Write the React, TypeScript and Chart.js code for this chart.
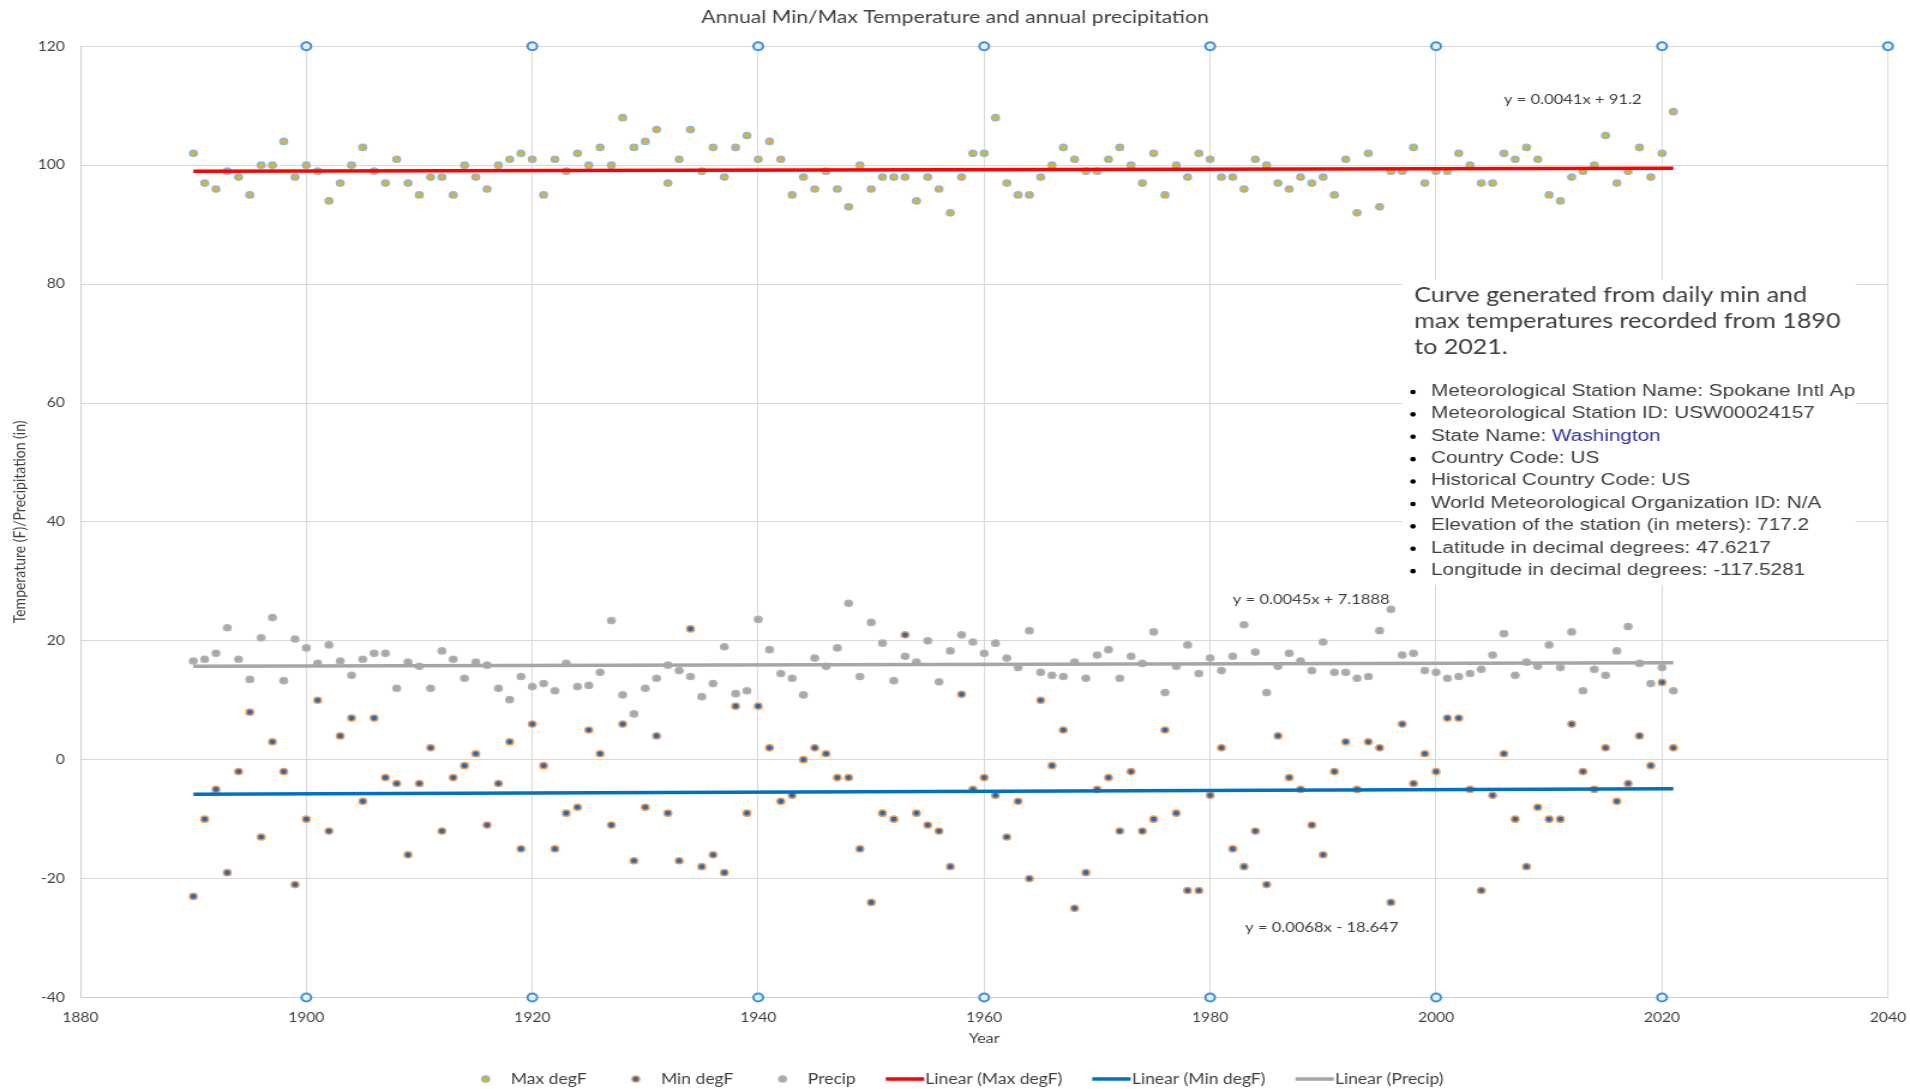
import React, { useEffect, useRef } from 'react';
import { Chart, registerables } from 'chart.js';

Chart.register(...registerables);

// ---------------- data ----------------
const years = [
  1890, 1891, 1892, 1893, 1894, 1895, 1896, 1897, 1898, 1899,
  1900, 1901, 1902, 1903, 1904, 1905, 1906, 1907, 1908, 1909,
  1910, 1911, 1912, 1913, 1914, 1915, 1916, 1917, 1918, 1919,
  1920, 1921, 1922, 1923, 1924, 1925, 1926, 1927, 1928, 1929,
  1930, 1931, 1932, 1933, 1934, 1935, 1936, 1937, 1938, 1939,
  1940, 1941, 1942, 1943, 1944, 1945, 1946, 1947, 1948, 1949,
  1950, 1951, 1952, 1953, 1954, 1955, 1956, 1957, 1958, 1959,
  1960, 1961, 1962, 1963, 1964, 1965, 1966, 1967, 1968, 1969,
  1970, 1971, 1972, 1973, 1974, 1975, 1976, 1977, 1978, 1979,
  1980, 1981, 1982, 1983, 1984, 1985, 1986, 1987, 1988, 1989,
  1990, 1991, 1992, 1993, 1994, 1995, 1996, 1997, 1998, 1999,
  2000, 2001, 2002, 2003, 2004, 2005, 2006, 2007, 2008, 2009,
  2010, 2011, 2012, 2013, 2014, 2015, 2016, 2017, 2018, 2019,
  2020, 2021,
];

const maxDegF = [
  102, 97, 96, 99, 98, 95, 100, 100, 104, 98,
  100, 99, 94, 97, 100, 103, 99, 97, 101, 97,
  95, 98, 98, 95, 100, 98, 96, 100, 101, 102,
  101, 95, 101, 99, 102, 100, 103, 100, 108, 103,
  104, 106, 97, 101, 106, 99, 103, 98, 103, 105,
  101, 104, 101, 95, 98, 96, 99, 96, 93, 100,
  96, 98, 98, 98, 94, 98, 96, 92, 98, 102,
  102, 108, 97, 95, 95, 98, 100, 103, 101, 99,
  99, 101, 103, 100, 97, 102, 95, 100, 98, 102,
  101, 98, 98, 96, 101, 100, 97, 96, 98, 97,
  98, 95, 101, 92, 102, 93, 99, 99, 103, 97,
  99, 99, 102, 100, 97, 97, 102, 101, 103, 101,
  95, 94, 98, 99, 100, 105, 97, 99, 103, 98,
  102, 109,
];

const minDegF = [
  -23, -10, -5, -19, -2, 8, -13, 3, -2, -21,
  -10, 10, -12, 4, 7, -7, 7, -3, -4, -16,
  -4, 2, -12, -3, -1, 1, -11, -4, 3, -15,
  6, -1, -15, -9, -8, 5, 1, -11, 6, -17,
  -8, 4, -9, -17, 22, -18, -16, -19, 9, -9,
  9, 2, -7, -6, 0, 2, 1, -3, -3, -15,
  -24, -9, -10, 21, -9, -11, -12, -18, 11, -5,
  -3, -6, -13, -7, -20, 10, -1, 5, -25, -19,
  -5, -3, -12, -2, -12, -10, 5, -9, -22, -22,
  -6, 2, -15, -18, -12, -21, 4, -3, -5, -11,
  -16, -2, 3, -5, 3, 2, -24, 6, -4, 1,
  -2, 7, 7, -5, -22, -6, 1, -10, -18, -8,
  -10, -10, 6, -2, -5, 2, -7, -4, 4, -1,
  13, 2,
];

const precipIn = [
  16.6, 16.9, 17.9, 22.2, 16.9, 13.5, 20.5, 23.9, 13.3, 20.3,
  18.8, 16.2, 19.3, 16.6, 14.2, 16.9, 17.9, 17.9, 12.0, 16.4,
  15.7, 12.0, 18.3, 16.9, 13.7, 16.4, 15.9, 12.0, 10.1, 14.0,
  12.3, 12.8, 11.6, 16.2, 12.3, 12.5, 14.7, 23.4, 10.9, 7.7,
  12.0, 13.7, 15.9, 15.0, 14.0, 10.6, 12.8, 19.0, 11.1, 11.6,
  23.6, 18.5, 14.5, 13.7, 10.9, 17.1, 15.7, 18.8, 26.3, 14.0,
  23.1, 19.6, 13.3, 17.4, 16.4, 20.0, 13.1, 18.3, 21.0, 19.8,
  17.9, 19.6, 17.1, 15.5, 21.7, 14.7, 14.2, 14.0, 16.4, 13.7,
  17.6, 18.5, 13.7, 17.4, 16.2, 21.5, 11.3, 15.7, 19.3, 14.5,
  17.1, 15.0, 17.4, 22.7, 18.1, 11.3, 15.7, 17.9, 16.6, 15.0,
  19.8, 14.7, 14.7, 13.7, 14.0, 21.7, 25.3, 17.6, 17.9, 15.0,
  14.7, 13.7, 14.0, 14.5, 15.2, 17.6, 21.2, 14.2, 16.4, 15.7,
  19.3, 15.5, 21.5, 11.6, 15.2, 14.2, 18.3, 22.4, 16.2, 12.8,
  15.5, 11.6,
];

// trend lines: end points
const trendYears = [1890, 2021];
const maxTrend = [99.0, 99.5];
const minTrend = [-5.8, -4.9];
const precipTrend = [15.7, 16.3];

// circle markers sitting on the top / bottom gridlines
const topMarkerYears = [1900, 1920, 1940, 1960, 1980, 2000, 2020, 2040];
const bottomMarkerYears = [1900, 1920, 1940, 1960, 1980, 2000, 2020];
const topMarkerValue = 120;
const bottomMarkerValue = -40;

const titleText = 'Annual Min/Max Temperature and annual precipitation';
const xTitle = 'Year';
const yTitle = 'Temperature (F)/Precipitation (in)';
const equationTexts = ['y = 0.0041x + 91.2', 'y = 0.0045x + 7.1888', 'y = 0.0068x - 18.647'];

const infoHeading = [
  'Curve generated from daily min and',
  'max temperatures recorded from 1890',
  'to 2021.',
];
const infoBullets: [string, string][] = [
  ['Meteorological Station Name: Spokane Intl Ap', ''],
  ['Meteorological Station ID: USW00024157', ''],
  ['State Name: ', 'Washington'],
  ['Country Code: US', ''],
  ['Historical Country Code: US', ''],
  ['World Meteorological Organization ID: N/A', ''],
  ['Elevation of the station (in meters): 717.2', ''],
  ['Latitude in decimal degrees: 47.6217', ''],
  ['Longitude in decimal degrees: -117.5281', ''],
];

// ---------------- layout / style ----------------
const W = 1910;
const H = 1089;
const STRETCH = 1.2; // reference is horizontally stretched
const IW = Math.round(W / STRETCH);
const PLOT_RIGHT = 1888 / (W / IW);
const RIGHT_GAP = IW - PLOT_RIGHT;

const TEXT = '#404040';
const GRID = '#D9D9D9';

const C_MAX_FILL = '#E2B223';
const C_MAX_EDGE = '#8DB6DE';
const C_MIN_FILL = '#1C6CC0';
const C_MIN_EDGE = '#EE9A55';
const C_PRE_FILL = '#A8A8A8';
const C_PRE_EDGE = '#B2B2B2';
const C_TR_MAX = '#FF0000';
const C_TR_MIN = '#0070C0';
const C_TR_PRE = '#A6A6A6';

const POINT_R = 3.1;
const POINT_BW = 1.5;

// annotation anchors in data coordinates
const eqAnchors = [
  { x: 2006.0, y: 111.0 },
  { x: 1982.0, y: 27.0 },
  { x: 1983.1, y: -28.3 },
];
const infoBox = { x0: 1997.0, x1: 2037.2, y0: 80.7, y1: 29.4 };

const pts = (xs: number[], ys: number[]) => xs.map((x, i) => ({ x, y: ys[i] }));

type LegendEntry = { label: string; kind: 'marker' | 'line'; fill: string; edge: string };
const legendEntries: LegendEntry[] = [
  { label: 'Max degF', kind: 'marker', fill: C_MAX_FILL, edge: C_MAX_EDGE },
  { label: 'Min degF', kind: 'marker', fill: C_MIN_FILL, edge: C_MIN_EDGE },
  { label: 'Precip', kind: 'marker', fill: C_PRE_FILL, edge: C_PRE_EDGE },
  { label: 'Linear (Max degF)', kind: 'line', fill: C_TR_MAX, edge: C_TR_MAX },
  { label: 'Linear (Min degF)', kind: 'line', fill: C_TR_MIN, edge: C_TR_MIN },
  { label: 'Linear (Precip)', kind: 'line', fill: C_TR_PRE, edge: C_TR_PRE },
];

const overlayPlugin = {
  id: 'overlay',
  beforeDatasetsDraw(chart: any) {
    const { ctx, scales } = chart;
    const xs = scales.x;
    const ys = scales.y;
    const left = xs.getPixelForValue(infoBox.x0);
    const right = xs.getPixelForValue(infoBox.x1);
    const top = ys.getPixelForValue(infoBox.y0);
    const bottom = ys.getPixelForValue(infoBox.y1);
    ctx.save();
    ctx.fillStyle = '#FFFFFF';
    ctx.fillRect(left, top, right - left, bottom - top);
    ctx.textBaseline = 'middle';
    ctx.textAlign = 'left';
    ctx.fillStyle = TEXT;
    ctx.font = '20.9px Lato';
    infoHeading.forEach((line, i) => {
      ctx.fillText(line, left + 10, top + 15 + i * 26);
    });
    ctx.font = '17.3px "Liberation Sans"';
    infoBullets.forEach((b, i) => {
      const cy = top + 111 + i * 22.4;
      ctx.fillStyle = '#000000';
      ctx.beginPath();
      ctx.arc(left + 9, cy + 1, 2.3, 0, Math.PI * 2);
      ctx.fill();
      ctx.fillStyle = TEXT;
      ctx.fillText(b[0], left + 24, cy);
      if (b[1]) {
        const w = ctx.measureText(b[0]).width;
        ctx.fillStyle = '#3535A8';
        ctx.fillText(b[1], left + 24 + w, cy);
      }
    });
    ctx.restore();
  },
  afterDatasetsDraw(chart: any) {
    const { ctx, scales } = chart;
    ctx.save();
    ctx.font = '13.8px Lato';
    ctx.fillStyle = TEXT;
    ctx.textBaseline = 'middle';
    ctx.textAlign = 'left';
    equationTexts.forEach((t, i) => {
      const a = eqAnchors[i];
      ctx.fillText(t, scales.x.getPixelForValue(a.x), scales.y.getPixelForValue(a.y));
    });
    ctx.restore();
  },
  afterDraw(chart: any) {
    const { ctx } = chart;
    ctx.save();
    ctx.font = '14.6px Lato';
    ctx.textBaseline = 'middle';
    ctx.textAlign = 'left';
    const gap = 25;
    const widths = legendEntries.map((e) => {
      const tw = ctx.measureText(e.label).width;
      return e.kind === 'marker' ? 16 + 21 + tw : 32 + 1 + tw;
    });
    const total = widths.reduce((a, b) => a + b, 0) + gap * (widths.length - 1);
    let x = (chart.width - total) / 2;
    const cy = 1079;
    legendEntries.forEach((e, i) => {
      if (e.kind === 'marker') {
        ctx.beginPath();
        ctx.arc(x + 16, cy, POINT_R, 0, Math.PI * 2);
        ctx.fillStyle = e.fill;
        ctx.fill();
        ctx.lineWidth = POINT_BW;
        ctx.strokeStyle = e.edge;
        ctx.stroke();
        ctx.fillStyle = TEXT;
        ctx.fillText(e.label, x + 37, cy);
      } else {
        ctx.beginPath();
        ctx.moveTo(x, cy);
        ctx.lineTo(x + 32, cy);
        ctx.lineWidth = 3.5;
        ctx.strokeStyle = e.edge;
        ctx.stroke();
        ctx.fillStyle = TEXT;
        ctx.fillText(e.label, x + 33, cy);
      }
      x += widths[i] + gap;
    });
    ctx.restore();
  },
};

export default function App() {
  const ref = useRef<HTMLCanvasElement | null>(null);

  useEffect(() => {
    document.body.style.margin = '0';
    document.body.style.overflow = 'hidden';
    if (!ref.current) return;

    const pointDs = (label: string, ys: number[], fill: string, edge: string) => ({
      label,
      data: pts(years, ys),
      pointRadius: POINT_R,
      pointBackgroundColor: fill,
      pointBorderColor: edge,
      pointBorderWidth: POINT_BW,
      showLine: false,
      order: 1,
    });
    const trendDs = (label: string, ys: number[], color: string) => ({
      label,
      data: pts(trendYears, ys),
      showLine: true,
      borderColor: color,
      borderWidth: 3.5,
      pointRadius: 0,
      fill: false,
      order: 0,
    });

    const chart = new Chart(ref.current, {
      type: 'scatter',
      data: {
        datasets: [
          trendDs('Linear (Max degF)', maxTrend, C_TR_MAX),
          trendDs('Linear (Min degF)', minTrend, C_TR_MIN),
          trendDs('Linear (Precip)', precipTrend, C_TR_PRE),
          pointDs('Max degF', maxDegF, C_MAX_FILL, C_MAX_EDGE),
          pointDs('Min degF', minDegF, C_MIN_FILL, C_MIN_EDGE),
          pointDs('Precip', precipIn, C_PRE_FILL, C_PRE_EDGE),
          {
            label: 'gridMarks',
            data: [
              ...topMarkerYears.map((x) => ({ x, y: topMarkerValue })),
              ...bottomMarkerYears.map((x) => ({ x, y: bottomMarkerValue })),
            ],
            pointRadius: 4,
            pointBorderWidth: 2,
            pointBorderColor: '#3D8FE0',
            pointBackgroundColor: '#E4F0FC',
            showLine: false,
            clip: false,
            order: 2,
          } as any,
        ],
      },
      options: {
        animation: false,
        responsive: true,
        maintainAspectRatio: false,
        devicePixelRatio: 1,
        events: [],
        layout: { padding: { left: 0, right: 0, top: 0, bottom: 40 } },
        plugins: {
          legend: { display: false },
          tooltip: { enabled: false },
          title: {
            display: true,
            text: titleText,
            color: TEXT,
            font: { family: 'Lato', size: 17.6, weight: 'normal' },
            padding: { top: 6.5, bottom: 18.7 },
          },
        },
        scales: {
          x: {
            type: 'linear',
            min: 1880,
            max: 2040,
            afterFit: (s: any) => {
              s.height = 51.5;
              s.paddingLeft = 0;
              s.paddingRight = RIGHT_GAP;
            },
            ticks: {
              stepSize: 20,
              color: TEXT,
              padding: 12.7,
              font: { family: 'Lato', size: 13 },
              callback: (v: any) => String(v),
            },
            grid: { color: GRID, lineWidth: 1, drawTicks: false },
            border: { color: '#CFCFCF', width: 1 },
            title: {
              display: true,
              text: xTitle,
              color: TEXT,
              font: { family: 'Lato', size: 13.5 },
              padding: { top: 0, bottom: 2 },
            },
          },
          y: {
            type: 'linear',
            min: -40,
            max: 120,
            afterFit: (s: any) => {
              s.width = 67;
              s.paddingTop = 0;
              s.paddingBottom = 0;
            },
            ticks: {
              stepSize: 20,
              color: TEXT,
              padding: 13,
              font: { family: 'Lato', size: 13 },
              callback: (v: any) => String(v),
            },
            grid: { color: GRID, lineWidth: 1, drawTicks: false },
            border: { color: '#CFCFCF', width: 1 },
            title: {
              display: true,
              text: yTitle,
              color: TEXT,
              font: { family: 'Lato', size: 14 },
              padding: { top: 8, bottom: 0 },
            },
          },
        },
      },
      plugins: [overlayPlugin],
    } as any);

    return () => chart.destroy();
  }, []);

  return (
    <div style={{ width: W, height: H, overflow: 'hidden', background: '#FFFFFF' }}>
      <div
        style={{
          width: IW,
          height: H,
          transform: `scaleX(${W / IW})`,
          transformOrigin: '0 0',
          position: 'relative',
        }}
      >
        <canvas ref={ref} />
      </div>
    </div>
  );
}
